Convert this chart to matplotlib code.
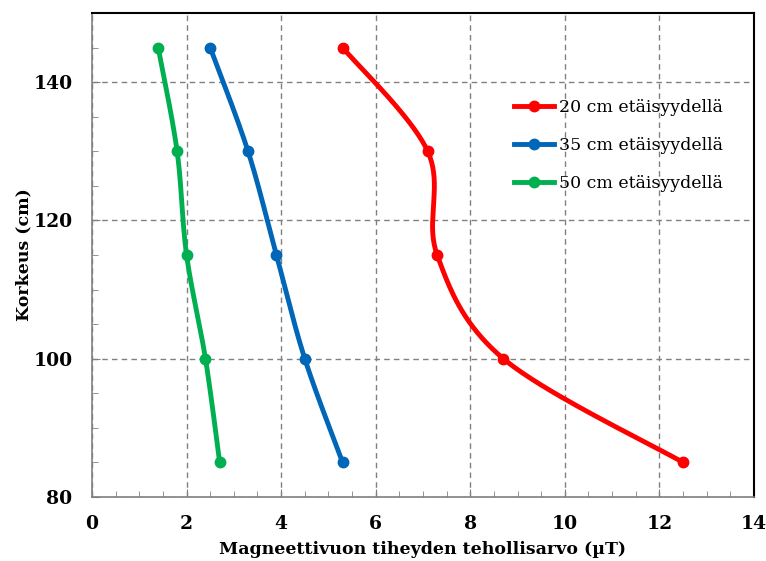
import numpy as np
import matplotlib.pyplot as plt
from matplotlib.ticker import MultipleLocator

# korkeus (cm)
korkeus = [145, 130, 115, 100, 85]
b_20cm = [5.3, 7.1, 7.3, 8.7, 12.5]
b_35cm = [2.5, 3.3, 3.9, 4.5, 5.3]
b_50cm = [1.4, 1.8, 2.0, 2.4, 2.7]

sarjat = [
    ("20 cm etäisyydellä", b_20cm, "#ff0000"),
    ("35 cm etäisyydellä", b_35cm, "#0066b8"),
    ("50 cm etäisyydellä", b_50cm, "#00b050"),
]


def smooth(xs, ys, n=40):
    # Excel-tyylinen pehmennys (Bezier, Catmull-Rom -kontrollipisteet)
    p = np.column_stack([xs, ys]).astype(float)
    pts = np.vstack([p[0], p, p[-1]])
    out = []
    t = np.linspace(0, 1, n)[:, None]
    for i in range(1, len(pts) - 2):
        p0, p1, p2, p3 = pts[i - 1], pts[i], pts[i + 1], pts[i + 2]
        c1 = p1 + (p2 - p0) / 6
        c2 = p2 - (p3 - p1) / 6
        seg = ((1 - t) ** 3) * p1 + 3 * ((1 - t) ** 2) * t * c1 + 3 * (1 - t) * t ** 2 * c2 + t ** 3 * p2
        out.append(seg if i == 1 else seg[1:])
    s = np.vstack(out)
    return s[:, 0], s[:, 1]


plt.rcParams['font.family'] = ['DejaVu Serif']

fig = plt.figure(figsize=(7.66, 5.61), dpi=100)
ax = fig.add_axes([0.1201, 0.1141, 0.8642, 0.8627])

for nimi, arvot, vari in sarjat:
    sx, sy = smooth(arvot, korkeus)
    ax.plot(sx, sy, color=vari, lw=3.5, solid_capstyle='round', zorder=3)
    ax.plot(arvot, korkeus, 'o', color=vari, ms=7.5, zorder=4)
    ax.plot([], [], '-o', color=vari, lw=3.5, ms=7.5, label=nimi)

ax.set_xlim(0, 14)
ax.set_ylim(80, 150)
ax.xaxis.set_major_locator(MultipleLocator(2))
ax.xaxis.set_minor_locator(MultipleLocator(0.5))
ax.yaxis.set_major_locator(MultipleLocator(20))
ax.yaxis.set_minor_locator(MultipleLocator(5))
ax.set_yticks([80, 100, 120, 140])

ax.grid(True, which='major', color='#808080', ls=(0, (4, 3)), lw=1.0)
ax.tick_params(which='both', direction='in', color='#808080', labelsize=13.5)
ax.tick_params(which='major', length=6)
ax.tick_params(axis='x', which='major', pad=13)
ax.tick_params(axis='y', which='major', pad=14)
ax.tick_params(which='minor', length=4)
for lab in ax.get_xticklabels() + ax.get_yticklabels():
    lab.set_fontweight('bold')

for s in ['left', 'bottom']:
    ax.spines[s].set_color('#808080')
    ax.spines[s].set_linewidth(1.2)
for s in ['top', 'right']:
    ax.spines[s].set_color('black')
    ax.spines[s].set_linewidth(1.5)

ax.set_xlabel('Magneettivuon tiheyden tehollisarvo (µT)', fontsize=12.5, fontweight='bold', labelpad=6)
ax.set_ylabel('Korkeus (cm)', fontsize=12.5, fontweight='bold', labelpad=1)

leg = ax.legend(loc='upper left', bbox_to_anchor=(514 / 766, 1 - 99 / 561),
                bbox_transform=fig.transFigure,
                frameon=False, prop={'size': 12.5},
                handlelength=2.3, handletextpad=0.3, labelspacing=1.2, borderpad=0,
                borderaxespad=0)

fig.savefig('out.png', dpi=100)
